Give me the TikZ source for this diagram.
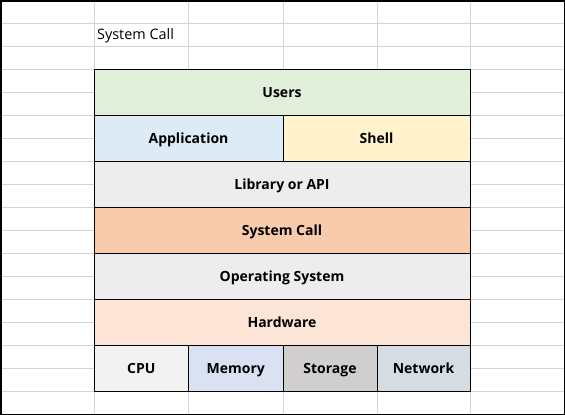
\documentclass[tikz,border=0pt]{standalone}
\usepackage{fontspec}
\setmainfont{Open Sans}
\definecolor{gridc}{HTML}{D4D4D4}
\definecolor{cusers}{HTML}{E2EFDA}
\definecolor{capp}{HTML}{DDEBF7}
\definecolor{cshell}{HTML}{FFF2CC}
\definecolor{clib}{HTML}{EDEDED}
\definecolor{csys}{HTML}{F8CBAD}
\definecolor{cos}{HTML}{EDEDED}
\definecolor{chw}{HTML}{FCE4D6}
\definecolor{ccpu}{HTML}{F2F2F2}
\definecolor{cmem}{HTML}{D9E1F2}
\definecolor{csto}{HTML}{D0CECE}
\definecolor{cnet}{HTML}{D6DCE4}
\begin{document}
\begin{tikzpicture}[x=1pt,y=-1pt,
  gridline/.style={draw=gridc,line width=1pt},
  cell/.style={draw=black,line width=1pt,anchor=north west,inner sep=0pt,outer sep=0pt,
    minimum height=46pt,text height=10.5pt,text depth=0pt,font=\fontsize{14}{16}\selectfont\bfseries},
  wide/.style={cell,minimum width=376pt},
  half/.style={cell,minimum width=94pt}]
\useasboundingbox (0,0) rectangle (565,415);
\fill[white] (0,0) rectangle (565,415);
% grid
\foreach \x in {94,188.5,283,377,470}
  \draw[gridline] (\x,0) -- (\x,415);
\foreach \k in {1,...,17}
  \draw[gridline] (0,23*\k) -- (565,23*\k);
% title
\node[anchor=base west,inner sep=0pt,font=\fontsize{14.4}{16}\selectfont] (title) at (97,39.5) {System Call};
% layers
\node[wide,fill=cusers] (users) at (94,69) {Users};
\node[cell,fill=capp,minimum width=189pt] (app) at (94,115) {Application};
\node[cell,fill=cshell,minimum width=187pt] (shell) at (283,115) {Shell};
\node[wide,fill=clib] (lib) at (94,161) {Library or API};
\node[wide,fill=csys] (sys) at (94,207) {System Call};
\node[wide,fill=cos] (os) at (94,253) {Operating System};
\node[wide,fill=chw] (hw) at (94,299) {Hardware};
\node[cell,fill=ccpu,minimum width=94.5pt] (cpu) at (94,345) {CPU};
\node[cell,fill=cmem,minimum width=94.5pt] (mem) at (188.5,345) {Memory};
\node[cell,fill=csto,minimum width=94pt] (sto) at (283,345) {Storage};
\node[cell,fill=cnet,minimum width=93pt] (net) at (377,345) {Network};
% outer frame
\draw[black,line width=1.5pt] (0.75,0.75) rectangle (564.25,414.25);
\end{tikzpicture}
\end{document}
